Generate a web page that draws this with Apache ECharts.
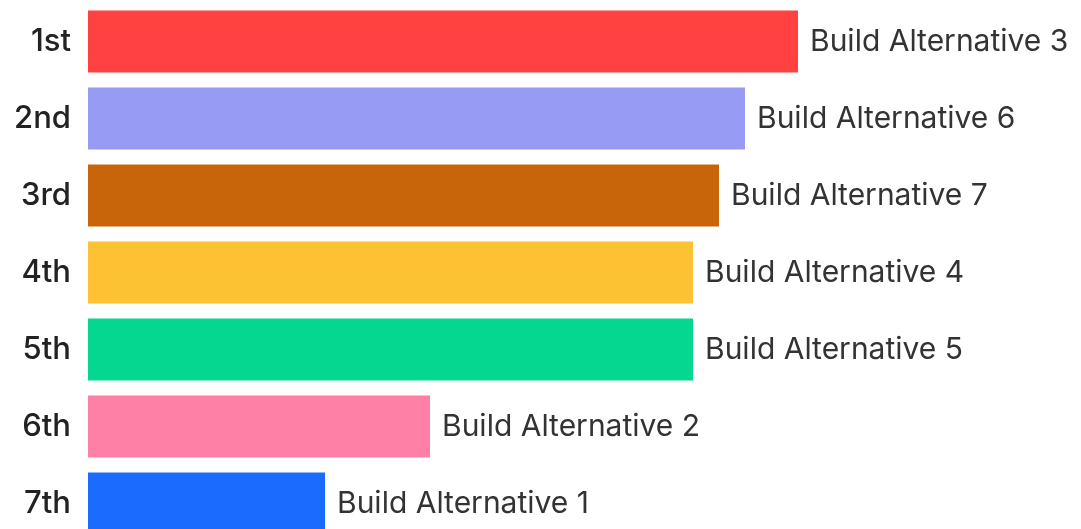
<!DOCTYPE html>
<html>
<head>
<meta charset="utf-8">
<script src="https://cdn.jsdelivr.net/npm/echarts@6/dist/echarts.min.js"></script>
<style>
  html, body { margin: 0; padding: 0; background: #fff; }
  #chart { width: 1081px; height: 529px; }
</style>
</head>
<body>
<div id="chart"></div>
<script>
// ranks, top to bottom
var ranks = ['1st', '2nd', '3rd', '4th', '5th', '6th', '7th']
var alternatives = ['Build Alternative 3', 'Build Alternative 6', 'Build Alternative 7',
  'Build Alternative 4', 'Build Alternative 5', 'Build Alternative 2', 'Build Alternative 1']
// bar lengths (no axis shown, relative units)
var scores = [710, 657, 631, 605, 605, 342, 237]
var barColors = ['#ff4141', '#979bf3', '#c8650b', '#fcc233', '#05d690', '#ff80a7', '#1b6bff']

var chart = echarts.init(document.getElementById('chart'))

var option = {
  animation: false,
  grid: {
    left: 88,
    right: 0,
    top: 3,
    height: 539,
    outerBoundsMode: 'none'
  },
  xAxis: {
    type: 'value',
    min: 0,
    max: 993,
    show: false
  },
  yAxis: {
    type: 'category',
    inverse: true,
    data: ranks,
    axisLine: { show: false },
    axisTick: { show: false },
    axisLabel: {
      margin: 17,
      fontFamily: 'Inter',
      fontSize: 31,
      fontWeight: 500,
      color: '#222'
    }
  },
  series: [{
    type: 'bar',
    barWidth: 62,
    data: scores.map(function (v, i) {
      return { value: v, itemStyle: { color: barColors[i] } }
    }),
    label: {
      show: true,
      position: 'right',
      distance: 12,
      fontFamily: 'Inter',
      fontSize: 30,
      color: '#333',
      formatter: function (p) { return alternatives[p.dataIndex] }
    }
  }]
}

chart.setOption(option)
</script>
</body>
</html>
